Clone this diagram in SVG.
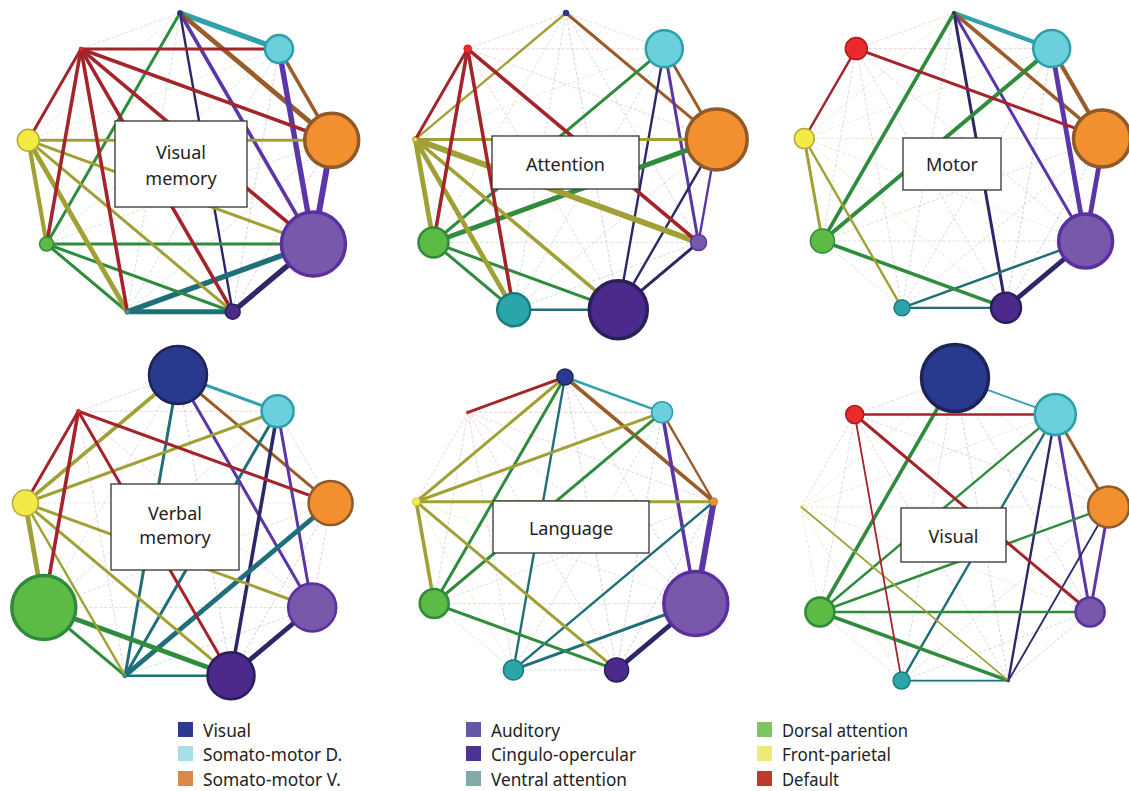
<svg xmlns="http://www.w3.org/2000/svg" xmlns:xlink="http://www.w3.org/1999/xlink" width="1129" height="791" viewBox="0 0 1129 791">
<style>
.m line{fill:none;stroke-width:0.8;stroke-dasharray:3 2;vector-effect:non-scaling-stroke;opacity:0.6}
.f1{stroke:#8fcbd3}.f2{stroke:#d6b08c}.f3{stroke:#b3a2d6}.f4{stroke:#a29dc4}.f5{stroke:#94c0c4}.f6{stroke:#a3d2a0}.f7{stroke:#d6d68c}.f8{stroke:#e2a2a6}
.c line{vector-effect:non-scaling-stroke;stroke-linecap:round;fill:none}
.e1{stroke:#2fa2ab}.e2{stroke:#9a5c2b}.e3{stroke:#5a36a8}.e4{stroke:#2c2768}.e5{stroke:#1f6f78}.e6{stroke:#2f8c3c}.e7{stroke:#a1a035}.e8{stroke:#a3242b}
.n0{fill:#293a8e;stroke:#1c2457}.n1{fill:#6ccfdc;stroke:#2b9fab}.n2{fill:#f2902f;stroke:#8e5a2c}.n3{fill:#7758ab;stroke:#5a30a0}.n4{fill:#4c2a8c;stroke:#2a1f58}.n5{fill:#2aa6a9;stroke:#1d7a80}.n6{fill:#5cbb45;stroke:#2f8a3a}.n7{fill:#f3ea46;stroke:#b5a93a}.n8{fill:#ea2a2b;stroke:#a81c1f}
.sl{stroke-width:3.5}.sm{stroke-width:2.5}.ss{stroke-width:1.5}.st{stroke-width:0.5}
.box{fill:#fff;stroke:#333;stroke-width:1.3}
.lbl{font-family:"Noto Sans","Open Sans",sans-serif;font-size:18px;fill:#222;text-anchor:middle}
.lg{font-family:"Noto Sans","Open Sans",sans-serif;font-size:18px;fill:#222}
</style>
<defs>
<g id="mesh" class="m">
<line class="f1" x1="0" y1="-100" x2="64.3" y2="-76.6"/>
<line class="f2" x1="0" y1="-100" x2="98.5" y2="-17.4"/>
<line class="f3" x1="0" y1="-100" x2="86.6" y2="50"/>
<line class="f4" x1="0" y1="-100" x2="34.2" y2="94"/>
<line class="f5" x1="0" y1="-100" x2="-34.2" y2="94"/>
<line class="f6" x1="0" y1="-100" x2="-86.6" y2="50"/>
<line class="f7" x1="0" y1="-100" x2="-98.5" y2="-17.4"/>
<line class="f8" x1="0" y1="-100" x2="-64.3" y2="-76.6"/>
<line class="f2" x1="64.3" y1="-76.6" x2="98.5" y2="-17.4"/>
<line class="f3" x1="64.3" y1="-76.6" x2="86.6" y2="50"/>
<line class="f4" x1="64.3" y1="-76.6" x2="34.2" y2="94"/>
<line class="f5" x1="64.3" y1="-76.6" x2="-34.2" y2="94"/>
<line class="f6" x1="64.3" y1="-76.6" x2="-86.6" y2="50"/>
<line class="f7" x1="64.3" y1="-76.6" x2="-98.5" y2="-17.4"/>
<line class="f8" x1="64.3" y1="-76.6" x2="-64.3" y2="-76.6"/>
<line class="f3" x1="98.5" y1="-17.4" x2="86.6" y2="50"/>
<line class="f4" x1="98.5" y1="-17.4" x2="34.2" y2="94"/>
<line class="f5" x1="98.5" y1="-17.4" x2="-34.2" y2="94"/>
<line class="f6" x1="98.5" y1="-17.4" x2="-86.6" y2="50"/>
<line class="f7" x1="98.5" y1="-17.4" x2="-98.5" y2="-17.4"/>
<line class="f8" x1="98.5" y1="-17.4" x2="-64.3" y2="-76.6"/>
<line class="f4" x1="86.6" y1="50" x2="34.2" y2="94"/>
<line class="f5" x1="86.6" y1="50" x2="-34.2" y2="94"/>
<line class="f6" x1="86.6" y1="50" x2="-86.6" y2="50"/>
<line class="f7" x1="86.6" y1="50" x2="-98.5" y2="-17.4"/>
<line class="f8" x1="86.6" y1="50" x2="-64.3" y2="-76.6"/>
<line class="f5" x1="34.2" y1="94" x2="-34.2" y2="94"/>
<line class="f6" x1="34.2" y1="94" x2="-86.6" y2="50"/>
<line class="f7" x1="34.2" y1="94" x2="-98.5" y2="-17.4"/>
<line class="f8" x1="34.2" y1="94" x2="-64.3" y2="-76.6"/>
<line class="f6" x1="-34.2" y1="94" x2="-86.6" y2="50"/>
<line class="f7" x1="-34.2" y1="94" x2="-98.5" y2="-17.4"/>
<line class="f8" x1="-34.2" y1="94" x2="-64.3" y2="-76.6"/>
<line class="f7" x1="-86.6" y1="50" x2="-98.5" y2="-17.4"/>
<line class="f8" x1="-86.6" y1="50" x2="-64.3" y2="-76.6"/>
<line class="f8" x1="-98.5" y1="-17.4" x2="-64.3" y2="-76.6"/>
</g>
</defs>
<rect width="1129" height="791" fill="#fff"/>
<g id="connectors">
<use xlink:href="#mesh" href="#mesh" transform="translate(180,167) scale(1.54)"/>
<use xlink:href="#mesh" href="#mesh" transform="translate(566,166) scale(1.53)"/>
<use xlink:href="#mesh" href="#mesh" transform="translate(954,165) scale(1.52)"/>
<use xlink:href="#mesh" href="#mesh" transform="translate(178,530) scale(1.55)"/>
<use xlink:href="#mesh" href="#mesh" transform="translate(565,528) scale(1.51)"/>
<use xlink:href="#mesh" href="#mesh" transform="translate(955,534) scale(1.56)"/>

<g id="edges-visual-memory" class="c" transform="translate(180,167) scale(1.54)">
<line class="e1" stroke-width="5.4" x1="0" y1="-100" x2="64.3" y2="-76.6"/>
<line class="e2" stroke-width="4.8" x1="0" y1="-100" x2="98.5" y2="-17.4"/>
<line class="e3" stroke-width="3.6" x1="0" y1="-100" x2="86.6" y2="50"/>
<line class="e4" stroke-width="2.4" x1="0" y1="-100" x2="34.2" y2="94"/>
<line class="e6" stroke-width="3" x1="0" y1="-100" x2="-86.6" y2="50"/>
<line class="e2" stroke-width="3.6" x1="64.3" y1="-76.6" x2="98.5" y2="-17.4"/>
<line class="e3" stroke-width="5.4" x1="64.3" y1="-76.6" x2="86.6" y2="50"/>
<line class="e8" stroke-width="3" x1="64.3" y1="-76.6" x2="-64.3" y2="-76.6"/>
<line class="e3" stroke-width="6" x1="98.5" y1="-17.4" x2="86.6" y2="50"/>
<line class="e7" stroke-width="3" x1="98.5" y1="-17.4" x2="-98.5" y2="-17.4"/>
<line class="e8" stroke-width="3.6" x1="98.5" y1="-17.4" x2="-64.3" y2="-76.6"/>
<line class="e4" stroke-width="5.4" x1="86.6" y1="50" x2="34.2" y2="94"/>
<line class="e5" stroke-width="5.4" x1="86.6" y1="50" x2="-34.2" y2="94"/>
<line class="e6" stroke-width="3" x1="86.6" y1="50" x2="-86.6" y2="50"/>
<line class="e7" stroke-width="3" x1="86.6" y1="50" x2="-98.5" y2="-17.4"/>
<line class="e8" stroke-width="3.6" x1="86.6" y1="50" x2="-64.3" y2="-76.6"/>
<line class="e5" stroke-width="4.8" x1="34.2" y1="94" x2="-34.2" y2="94"/>
<line class="e6" stroke-width="3" x1="34.2" y1="94" x2="-86.6" y2="50"/>
<line class="e7" stroke-width="3" x1="34.2" y1="94" x2="-98.5" y2="-17.4"/>
<line class="e8" stroke-width="3.6" x1="34.2" y1="94" x2="-64.3" y2="-76.6"/>
<line class="e6" stroke-width="3" x1="-34.2" y1="94" x2="-86.6" y2="50"/>
<line class="e7" stroke-width="4.8" x1="-34.2" y1="94" x2="-98.5" y2="-17.4"/>
<line class="e8" stroke-width="3.6" x1="-34.2" y1="94" x2="-64.3" y2="-76.6"/>
<line class="e7" stroke-width="4.2" x1="-86.6" y1="50" x2="-98.5" y2="-17.4"/>
<line class="e8" stroke-width="3.6" x1="-86.6" y1="50" x2="-64.3" y2="-76.6"/>
<line class="e8" stroke-width="3" x1="-98.5" y1="-17.4" x2="-64.3" y2="-76.6"/>
</g>

<g id="edges-attention" class="c" transform="translate(566,166) scale(1.53)">
<line class="e2" stroke-width="3" x1="0" y1="-100" x2="98.5" y2="-17.4"/>
<line class="e7" stroke-width="2.4" x1="0" y1="-100" x2="-98.5" y2="-17.4"/>
<line class="e2" stroke-width="3" x1="64.3" y1="-76.6" x2="98.5" y2="-17.4"/>
<line class="e3" stroke-width="3" x1="64.3" y1="-76.6" x2="86.6" y2="50"/>
<line class="e4" stroke-width="2.4" x1="64.3" y1="-76.6" x2="34.2" y2="94"/>
<line class="e6" stroke-width="3" x1="64.3" y1="-76.6" x2="-86.6" y2="50"/>
<line class="e3" stroke-width="2.4" x1="98.5" y1="-17.4" x2="86.6" y2="50"/>
<line class="e4" stroke-width="2.4" x1="98.5" y1="-17.4" x2="34.2" y2="94"/>
<line class="e6" stroke-width="4.8" x1="98.5" y1="-17.4" x2="-86.6" y2="50"/>
<line class="e7" stroke-width="3" x1="98.5" y1="-17.4" x2="-98.5" y2="-17.4"/>
<line class="e4" stroke-width="3" x1="86.6" y1="50" x2="34.2" y2="94"/>
<line class="e7" stroke-width="6" x1="86.6" y1="50" x2="-98.5" y2="-17.4"/>
<line class="e8" stroke-width="3.6" x1="86.6" y1="50" x2="-64.3" y2="-76.6"/>
<line class="e5" stroke-width="2.4" x1="34.2" y1="94" x2="-34.2" y2="94"/>
<line class="e6" stroke-width="3" x1="34.2" y1="94" x2="-86.6" y2="50"/>
<line class="e7" stroke-width="3.6" x1="34.2" y1="94" x2="-98.5" y2="-17.4"/>
<line class="e6" stroke-width="3" x1="-34.2" y1="94" x2="-86.6" y2="50"/>
<line class="e7" stroke-width="4.8" x1="-34.2" y1="94" x2="-98.5" y2="-17.4"/>
<line class="e8" stroke-width="3.6" x1="-34.2" y1="94" x2="-64.3" y2="-76.6"/>
<line class="e7" stroke-width="4.8" x1="-86.6" y1="50" x2="-98.5" y2="-17.4"/>
<line class="e8" stroke-width="3.6" x1="-86.6" y1="50" x2="-64.3" y2="-76.6"/>
<line class="e8" stroke-width="3" x1="-98.5" y1="-17.4" x2="-64.3" y2="-76.6"/>
</g>

<g id="edges-motor" class="c" transform="translate(954,165) scale(1.52)">
<line class="e1" stroke-width="4.2" x1="0" y1="-100" x2="64.3" y2="-76.6"/>
<line class="e2" stroke-width="3.6" x1="0" y1="-100" x2="98.5" y2="-17.4"/>
<line class="e3" stroke-width="3" x1="0" y1="-100" x2="86.6" y2="50"/>
<line class="e4" stroke-width="3" x1="0" y1="-100" x2="34.2" y2="94"/>
<line class="e6" stroke-width="3.6" x1="0" y1="-100" x2="-86.6" y2="50"/>
<line class="e2" stroke-width="4.2" x1="64.3" y1="-76.6" x2="98.5" y2="-17.4"/>
<line class="e3" stroke-width="4.8" x1="64.3" y1="-76.6" x2="86.6" y2="50"/>
<line class="e6" stroke-width="4.2" x1="64.3" y1="-76.6" x2="-86.6" y2="50"/>
<line class="e3" stroke-width="4.8" x1="98.5" y1="-17.4" x2="86.6" y2="50"/>
<line class="e8" stroke-width="3" x1="98.5" y1="-17.4" x2="-64.3" y2="-76.6"/>
<line class="e4" stroke-width="4.8" x1="86.6" y1="50" x2="34.2" y2="94"/>
<line class="e5" stroke-width="2.4" x1="86.6" y1="50" x2="-34.2" y2="94"/>
<line class="e5" stroke-width="2.4" x1="34.2" y1="94" x2="-34.2" y2="94"/>
<line class="e6" stroke-width="3.6" x1="34.2" y1="94" x2="-86.6" y2="50"/>
<line class="e7" stroke-width="2.4" x1="-34.2" y1="94" x2="-98.5" y2="-17.4"/>
<line class="e7" stroke-width="3" x1="-86.6" y1="50" x2="-98.5" y2="-17.4"/>
<line class="e8" stroke-width="2.4" x1="-98.5" y1="-17.4" x2="-64.3" y2="-76.6"/>
</g>

<g id="edges-verbal-memory" class="c" transform="translate(178,530) scale(1.55)">
<line class="e1" stroke-width="3" x1="0" y1="-100" x2="64.3" y2="-76.6"/>
<line class="e2" stroke-width="3" x1="0" y1="-100" x2="98.5" y2="-17.4"/>
<line class="e3" stroke-width="3" x1="0" y1="-100" x2="86.6" y2="50"/>
<line class="e5" stroke-width="3" x1="0" y1="-100" x2="-34.2" y2="94"/>
<line class="e7" stroke-width="3.6" x1="0" y1="-100" x2="-98.5" y2="-17.4"/>
<line class="e3" stroke-width="3" x1="64.3" y1="-76.6" x2="86.6" y2="50"/>
<line class="e4" stroke-width="3.6" x1="64.3" y1="-76.6" x2="34.2" y2="94"/>
<line class="e5" stroke-width="3" x1="64.3" y1="-76.6" x2="-34.2" y2="94"/>
<line class="e7" stroke-width="3" x1="64.3" y1="-76.6" x2="-98.5" y2="-17.4"/>
<line class="e5" stroke-width="4.8" x1="98.5" y1="-17.4" x2="-34.2" y2="94"/>
<line class="e8" stroke-width="3" x1="98.5" y1="-17.4" x2="-64.3" y2="-76.6"/>
<line class="e4" stroke-width="4.8" x1="86.6" y1="50" x2="34.2" y2="94"/>
<line class="e7" stroke-width="3" x1="86.6" y1="50" x2="-98.5" y2="-17.4"/>
<line class="e5" stroke-width="2.4" x1="34.2" y1="94" x2="-34.2" y2="94"/>
<line class="e6" stroke-width="4.8" x1="34.2" y1="94" x2="-86.6" y2="50"/>
<line class="e7" stroke-width="3" x1="34.2" y1="94" x2="-98.5" y2="-17.4"/>
<line class="e8" stroke-width="3" x1="34.2" y1="94" x2="-64.3" y2="-76.6"/>
<line class="e6" stroke-width="3" x1="-34.2" y1="94" x2="-86.6" y2="50"/>
<line class="e7" stroke-width="2.4" x1="-34.2" y1="94" x2="-98.5" y2="-17.4"/>
<line class="e7" stroke-width="4.8" x1="-86.6" y1="50" x2="-98.5" y2="-17.4"/>
<line class="e8" stroke-width="3.6" x1="-86.6" y1="50" x2="-64.3" y2="-76.6"/>
<line class="e8" stroke-width="3" x1="-98.5" y1="-17.4" x2="-64.3" y2="-76.6"/>
</g>

<g id="edges-language" class="c" transform="translate(565,528) scale(1.51)">
<line class="e1" stroke-width="2.4" x1="0" y1="-100" x2="64.3" y2="-76.6"/>
<line class="e2" stroke-width="3.6" x1="0" y1="-100" x2="98.5" y2="-17.4"/>
<line class="e5" stroke-width="2.4" x1="0" y1="-100" x2="-34.2" y2="94"/>
<line class="e6" stroke-width="3" x1="0" y1="-100" x2="-86.6" y2="50"/>
<line class="e7" stroke-width="3" x1="0" y1="-100" x2="-98.5" y2="-17.4"/>
<line class="e8" stroke-width="3" x1="0" y1="-100" x2="-64.3" y2="-76.6"/>
<line class="e2" stroke-width="2.4" x1="64.3" y1="-76.6" x2="98.5" y2="-17.4"/>
<line class="e3" stroke-width="3.6" x1="64.3" y1="-76.6" x2="86.6" y2="50"/>
<line class="e6" stroke-width="3" x1="64.3" y1="-76.6" x2="-86.6" y2="50"/>
<line class="e7" stroke-width="3" x1="64.3" y1="-76.6" x2="-98.5" y2="-17.4"/>
<line class="e3" stroke-width="6" x1="98.5" y1="-17.4" x2="86.6" y2="50"/>
<line class="e5" stroke-width="2.4" x1="98.5" y1="-17.4" x2="-34.2" y2="94"/>
<line class="e7" stroke-width="3" x1="98.5" y1="-17.4" x2="-98.5" y2="-17.4"/>
<line class="e4" stroke-width="4.8" x1="86.6" y1="50" x2="34.2" y2="94"/>
<line class="e5" stroke-width="3" x1="86.6" y1="50" x2="-34.2" y2="94"/>
<line class="e6" stroke-width="3" x1="34.2" y1="94" x2="-86.6" y2="50"/>
<line class="e7" stroke-width="3" x1="34.2" y1="94" x2="-98.5" y2="-17.4"/>
<line class="e7" stroke-width="3.6" x1="-86.6" y1="50" x2="-98.5" y2="-17.4"/>
</g>

<g id="edges-visual" class="c" transform="translate(955,534) scale(1.56)">
<line class="e1" stroke-width="1.8" x1="0" y1="-100" x2="64.3" y2="-76.6"/>
<line class="e6" stroke-width="3.6" x1="0" y1="-100" x2="-86.6" y2="50"/>
<line class="e2" stroke-width="3" x1="64.3" y1="-76.6" x2="98.5" y2="-17.4"/>
<line class="e3" stroke-width="3" x1="64.3" y1="-76.6" x2="86.6" y2="50"/>
<line class="e4" stroke-width="2.4" x1="64.3" y1="-76.6" x2="34.2" y2="94"/>
<line class="e5" stroke-width="2.4" x1="64.3" y1="-76.6" x2="-34.2" y2="94"/>
<line class="e6" stroke-width="2.4" x1="64.3" y1="-76.6" x2="-86.6" y2="50"/>
<line class="e8" stroke-width="2.4" x1="64.3" y1="-76.6" x2="-64.3" y2="-76.6"/>
<line class="e3" stroke-width="3" x1="98.5" y1="-17.4" x2="86.6" y2="50"/>
<line class="e4" stroke-width="1.8" x1="98.5" y1="-17.4" x2="34.2" y2="94"/>
<line class="e6" stroke-width="2.4" x1="98.5" y1="-17.4" x2="-86.6" y2="50"/>
<line class="e6" stroke-width="2.4" x1="86.6" y1="50" x2="-86.6" y2="50"/>
<line class="e8" stroke-width="3" x1="86.6" y1="50" x2="-64.3" y2="-76.6"/>
<line class="e5" stroke-width="1.8" x1="34.2" y1="94" x2="-34.2" y2="94"/>
<line class="e6" stroke-width="3.6" x1="34.2" y1="94" x2="-86.6" y2="50"/>
<line class="e7" stroke-width="1.8" x1="34.2" y1="94" x2="-98.5" y2="-17.4"/>
<line class="e8" stroke-width="1.8" x1="-34.2" y1="94" x2="-64.3" y2="-76.6"/>
</g>
</g>

<g id="labels">
<g id="label-visual-memory"><rect class="box" x="115" y="121" width="132" height="86"/><text class="lbl" x="181" y="159">Visual</text><text class="lbl" x="181" y="185">memory</text></g>
<g id="label-attention"><rect class="box" x="492" y="136" width="147" height="53"/><text class="lbl" x="565.5" y="171">Attention</text></g>
<g id="label-motor"><rect class="box" x="903" y="138" width="98" height="52"/><text class="lbl" x="952" y="171">Motor</text></g>
<g id="label-verbal-memory"><rect class="box" x="111" y="484" width="128" height="86"/><text class="lbl" x="175" y="520">Verbal</text><text class="lbl" x="175" y="544">memory</text></g>
<g id="label-language"><rect class="box" x="493" y="501" width="156" height="52"/><text class="lbl" x="571" y="535">Language</text></g>
<g id="label-visual"><rect class="box" x="901" y="508" width="105" height="54"/><text class="lbl" x="953.5" y="543">Visual</text></g>
</g>

<g id="nodes-visual-memory">
<g id="vm-visual"><circle class="n0 st" cx="180" cy="13" r="2.5"/></g>
<g id="vm-smd"><circle class="n1 sm" cx="279" cy="49" r="14"/></g>
<g id="vm-smv"><circle class="n2 sl" cx="331.7" cy="140.3" r="27"/></g>
<g id="vm-aud"><circle class="n3 sl" cx="313.4" cy="244" r="32"/></g>
<g id="vm-co"><circle class="n4 ss" cx="232.7" cy="311.7" r="7.5"/></g>
<g id="vm-va"><circle class="n5 st" cx="127.3" cy="311.7" r="2"/></g>
<g id="vm-da"><circle class="n6 ss" cx="46.6" cy="244" r="7"/></g>
<g id="vm-fp"><circle class="n7 ss" cx="28.3" cy="140.3" r="11"/></g>
<g id="vm-def"><circle class="n8 st" cx="81" cy="49" r="2"/></g>
</g>
<g id="nodes-attention">
<g id="at-visual"><circle class="n0 st" cx="566" cy="13" r="3"/></g>
<g id="at-smd"><circle class="n1 sm" cx="664.3" cy="48.8" r="18.5"/></g>
<g id="at-smv"><circle class="n2 sl" cx="716.7" cy="139.4" r="30.5"/></g>
<g id="at-aud"><circle class="n3 ss" cx="698.5" cy="242.5" r="8"/></g>
<g id="at-co"><circle class="n4 sl" cx="618.3" cy="309.8" r="29"/></g>
<g id="at-va"><circle class="n5 sm" cx="513.7" cy="309.8" r="16.5"/></g>
<g id="at-da"><circle class="n6 sm" cx="433.5" cy="242.5" r="15"/></g>
<g id="at-fp"><circle class="n7 st" cx="415.3" cy="139.4" r="2"/></g>
<g id="at-def"><circle class="n8 st" cx="467.7" cy="48.8" r="4"/></g>
</g>
<g id="nodes-motor">
<g id="mo-visual"><circle class="n0 st" cx="954" cy="13" r="1.5"/></g>
<g id="mo-smd"><circle class="n1 sm" cx="1051.7" cy="48.6" r="18.5"/></g>
<g id="mo-smv"><circle class="n2 sl" cx="1102" cy="138.6" r="28.5"/></g>
<g id="mo-aud"><circle class="n3 sl" cx="1085.6" cy="241" r="27"/></g>
<g id="mo-co"><circle class="n4 sm" cx="1006" cy="307.8" r="15"/></g>
<g id="mo-va"><circle class="n5 ss" cx="902" cy="307.8" r="8"/></g>
<g id="mo-da"><circle class="n6 ss" cx="822.4" cy="241" r="12"/></g>
<g id="mo-fp"><circle class="n7 ss" cx="804.3" cy="138.6" r="10"/></g>
<g id="mo-def"><circle class="n8 ss" cx="856.3" cy="48.6" r="11"/></g>
</g>
<g id="nodes-verbal-memory">
<g id="vb-visual"><circle class="n0 sm" cx="178" cy="375" r="29"/></g>
<g id="vb-smd"><circle class="n1 sm" cx="277.6" cy="411.3" r="16"/></g>
<g id="vb-smv"><circle class="n2 sm" cx="330.6" cy="503.1" r="22"/></g>
<g id="vb-aud"><circle class="n3 sm" cx="312.2" cy="607.5" r="24"/></g>
<g id="vb-co"><circle class="n4 sm" cx="231" cy="675.7" r="23.5"/></g>
<g id="vb-va"><circle class="n5 st" cx="125" cy="675.7" r="1.5"/></g>
<g id="vb-da"><circle class="n6 sl" cx="43.8" cy="607.5" r="32"/></g>
<g id="vb-fp"><circle class="n7 ss" cx="25.4" cy="503.1" r="13"/></g>
<g id="vb-def"><circle class="n8 st" cx="78.4" cy="411.3" r="2"/></g>
</g>
<g id="nodes-language">
<g id="la-visual"><circle class="n0 ss" cx="565" cy="377" r="8"/></g>
<g id="la-smd"><circle class="n1 ss" cx="662.1" cy="412.3" r="10.5"/></g>
<g id="la-smv"><circle class="n2 st" cx="713.7" cy="501.8" r="4"/></g>
<g id="la-aud"><circle class="n3 sl" cx="695.8" cy="603.5" r="32"/></g>
<g id="la-co"><circle class="n4 ss" cx="616.6" cy="669.9" r="12"/></g>
<g id="la-va"><circle class="n5 ss" cx="513.4" cy="669.9" r="10"/></g>
<g id="la-da"><circle class="n6 sm" cx="434.2" cy="603.5" r="14.5"/></g>
<g id="la-fp"><circle class="n7 st" cx="416.3" cy="501.8" r="4"/></g>
<g id="la-def"><circle class="n8 st" cx="467.9" cy="412.3" r="1.5"/></g>
</g>
<g id="nodes-visual">
<g id="vi-visual"><circle class="n0 sl" cx="955" cy="378" r="33.5"/></g>
<g id="vi-smd"><circle class="n1 sm" cx="1055.3" cy="414.5" r="20.5"/></g>
<g id="vi-smv"><circle class="n2 sm" cx="1108.6" cy="506.9" r="20.5"/></g>
<g id="vi-aud"><circle class="n3 sm" cx="1090.1" cy="612" r="14.5"/></g>
<g id="vi-co"><circle class="n4 st" cx="1008.4" cy="680.6" r="1"/></g>
<g id="vi-va"><circle class="n5 ss" cx="901.6" cy="680.6" r="8.5"/></g>
<g id="vi-da"><circle class="n6 sm" cx="819.9" cy="612" r="14.5"/></g>
<g id="vi-fp"><circle class="n7 st" cx="801.4" cy="506.9" r="1"/></g>
<g id="vi-def"><circle class="n8 ss" cx="854.7" cy="414.5" r="9"/></g>
</g>

<g id="legend">
<rect x="178" y="722" width="15" height="15" fill="#2b3a8f"/><text class="lg" x="203" y="737" textLength="48" lengthAdjust="spacingAndGlyphs">Visual</text>
<rect x="178" y="746" width="15" height="15" fill="#a6dfe6"/><text class="lg" x="203" y="761" textLength="139" lengthAdjust="spacingAndGlyphs">Somato-motor D.</text>
<rect x="178" y="771" width="15" height="15" fill="#d98a4b"/><text class="lg" x="203" y="786" textLength="138" lengthAdjust="spacingAndGlyphs">Somato-motor V.</text>
<rect x="466" y="722" width="15" height="15" fill="#6558a8"/><text class="lg" x="491" y="737" textLength="69" lengthAdjust="spacingAndGlyphs">Auditory</text>
<rect x="466" y="746" width="15" height="15" fill="#4a3393"/><text class="lg" x="491" y="761" textLength="145" lengthAdjust="spacingAndGlyphs">Cingulo-opercular</text>
<rect x="466" y="771" width="15" height="15" fill="#80aaa6"/><text class="lg" x="491" y="786" textLength="136" lengthAdjust="spacingAndGlyphs">Ventral attention</text>
<rect x="757" y="722" width="15" height="15" fill="#7ec463"/><text class="lg" x="782" y="737" textLength="126" lengthAdjust="spacingAndGlyphs">Dorsal attention</text>
<rect x="757" y="746" width="15" height="15" fill="#eeea7a"/><text class="lg" x="782" y="761" textLength="109" lengthAdjust="spacingAndGlyphs">Front-parietal</text>
<rect x="757" y="771" width="15" height="15" fill="#c0392e"/><text class="lg" x="782" y="786" textLength="57" lengthAdjust="spacingAndGlyphs">Default</text>
</g>
</svg>
